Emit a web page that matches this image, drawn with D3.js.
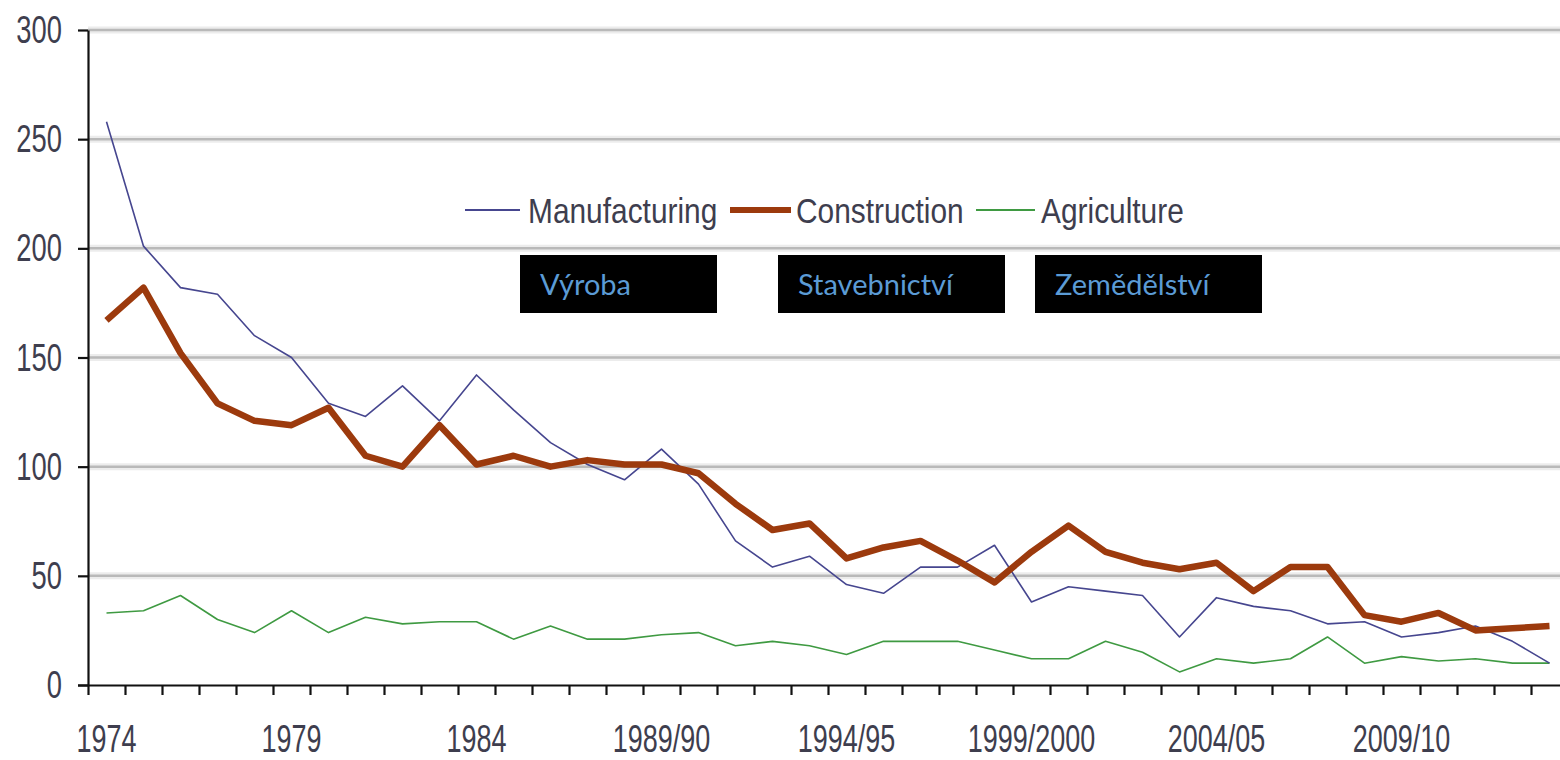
<!DOCTYPE html>
<html>
<head>
<meta charset="utf-8">
<script src="https://cdn.jsdelivr.net/npm/d3@7/dist/d3.min.js"></script>
<style>
  html, body { margin: 0; padding: 0; background: #ffffff; }
  svg { display: block; }
</style>
</head>
<body>
<svg id="chart" width="1560" height="760"></svg>
<script>
// ---- data ----
const categories = [
  "1974","1975","1976","1977","1978","1979","1980","1981","1982","1983",
  "1984","1985","1986","1987","1988","1989/90","1990/91","1991/92","1992/93","1993/94",
  "1994/95","1995/96","1996/97","1997/98","1998/99","1999/2000","2000/01","2001/02","2002/03","2003/04",
  "2004/05","2005/06","2006/07","2007/08","2008/09","2009/10","2010/11","2011/12","2012/13","2013/14"
];
const manufacturing = [258,201,182,179,160,150,129,123,137,121,142,126,111,101,94,108,92,66,54,59,46,42,54,54,64,38,45,43,41,22,40,36,34,28,29,22,24,27,20,10];
const construction  = [167,182,152,129,121,119,127,105,100,119,101,105,100,103,101,101,97,83,71,74,58,63,66,57,47,61,73,61,56,53,56,43,54,54,32,29,33,25,26,27];
const agriculture   = [33,34,41,30,24,34,24,31,28,29,29,21,27,21,21,23,24,18,20,18,14,20,20,20,16,12,12,20,15,6,12,10,12,22,10,13,11,12,10,10];
const yTicks = [0,50,100,150,200,250,300];
const xTickLabels = ["1974","1979","1984","1989/90","1994/95","1999/2000","2004/05","2009/10"];
const legendNames = ["Manufacturing","Construction","Agriculture"];
const boxLabels = ["Výroba","Stavebnictví","Zemědělství"];

// ---- layout ----
const svg = d3.select("#chart");
const left = 88, plotTop = 30, plotBottom = 685, step = 37;
const right = left + step * categories.length;
const x = d3.scaleBand().domain(categories).range([left, right]).paddingInner(0).paddingOuter(0);
const xi = d3.scaleLinear().domain([0, categories.length]).range([left, right]);
const y = d3.scaleLinear().domain([0, 300]).range([plotBottom, plotTop]);
const cx = c => x(c) + x.bandwidth() / 2;

const textFont = "'Liberation Sans', Arial, sans-serif";
const textColor = "#3e3e4e";

// gridlines (soft halo + line)
const gridVals = yTicks.filter(v => v > 0);
svg.append("g").selectAll("line").data(gridVals).join("line")
  .attr("x1", left).attr("x2", 1560)
  .attr("y1", d => y(d)).attr("y2", d => y(d))
  .attr("stroke", "#ececec").attr("stroke-width", 7);
svg.append("g").selectAll("line").data(gridVals).join("line")
  .attr("x1", left).attr("x2", 1560)
  .attr("y1", d => y(d)).attr("y2", d => y(d))
  .attr("stroke", "#b9b9b9").attr("stroke-width", 2.5);

// y axis
const yAxis = svg.append("g").attr("transform", `translate(${left},0)`)
  .call(d3.axisLeft(y).tickValues(yTicks).tickSize(10).tickSizeOuter(0).tickFormat(""));
yAxis.selectAll("path, line").attr("stroke", "#111").attr("stroke-width", 2.2);

// x axis
const xAxis = svg.append("g").attr("transform", `translate(0,${plotBottom})`)
  .call(d3.axisBottom(xi).tickValues(d3.range(0, categories.length + 1)).tickSize(10).tickSizeOuter(0).tickFormat(""));
xAxis.select("path.domain").attr("d", `M${left - 10},0.5H1560`);
xAxis.selectAll("path, line").attr("stroke", "#111").attr("stroke-width", 2.2);

// y tick labels
svg.append("g").selectAll("text").data(yTicks).join("text")
  .attr("transform", d => `translate(62,${y(d) + 13}) scale(0.72,1)`)
  .attr("text-anchor", "end")
  .attr("font-family", textFont).attr("font-size", 38)
  .attr("fill", textColor)
  .text(d => d);

// x tick labels
svg.append("g").selectAll("text").data(xTickLabels).join("text")
  .attr("transform", d => `translate(${cx(d)},752) scale(0.71,1)`)
  .attr("text-anchor", "middle")
  .attr("font-family", textFont).attr("font-size", 38)
  .attr("fill", textColor)
  .text(d => d);

// series
const series = [
  { name: legendNames[0], values: manufacturing, color: "#46468f", width: 1.6 },
  { name: legendNames[1], values: construction,  color: "#9c3a0d", width: 6.5 },
  { name: legendNames[2], values: agriculture,   color: "#3f9a42", width: 1.6 }
];
const line = d3.line().x((d, i) => cx(categories[i])).y(d => y(d));
const drawOrder = [series[2], series[0], series[1]];
svg.append("g").selectAll("path").data(drawOrder).join("path")
  .attr("d", s => line(s.values))
  .attr("fill", "none")
  .attr("stroke", s => s.color)
  .attr("stroke-width", s => s.width)
  .attr("stroke-linejoin", "round")
  .attr("stroke-linecap", "butt");

// legend
const legendItems = [
  { s: series[0], x1: 465, x2: 520, tx: 528 },
  { s: series[1], x1: 730, x2: 791, tx: 796 },
  { s: series[2], x1: 976, x2: 1035, tx: 1041 }
];
const lg = svg.append("g");
lg.selectAll("line").data(legendItems).join("line")
  .attr("x1", d => d.x1).attr("x2", d => d.x2)
  .attr("y1", 210).attr("y2", 210)
  .attr("stroke", d => d.s.color)
  .attr("stroke-width", d => d.s.width > 3 ? 6 : 2.2);
lg.selectAll("text").data(legendItems).join("text")
  .attr("transform", d => `translate(${d.tx},223) scale(0.83,1)`)
  .attr("font-family", textFont).attr("font-size", 36)
  .attr("fill", textColor)
  .text(d => d.s.name);

// black label boxes
const boxes = [
  { label: boxLabels[0], x: 520 },
  { label: boxLabels[1], x: 778 },
  { label: boxLabels[2], x: 1035 }
];
const bg = svg.append("g");
bg.selectAll("rect").data(boxes).join("rect")
  .attr("x", d => d.x).attr("y", 255)
  .attr("width", (d, i) => i === 0 ? 197 : 227).attr("height", 58)
  .attr("fill", "#000");
bg.selectAll("text").data(boxes).join("text")
  .attr("x", d => d.x + 20).attr("y", 295)
  .attr("font-family", "Lato, 'Open Sans', sans-serif").attr("font-size", 29)
  .attr("fill", "#5b9bd5")
  .text(d => d.label);
</script>
</body>
</html>
